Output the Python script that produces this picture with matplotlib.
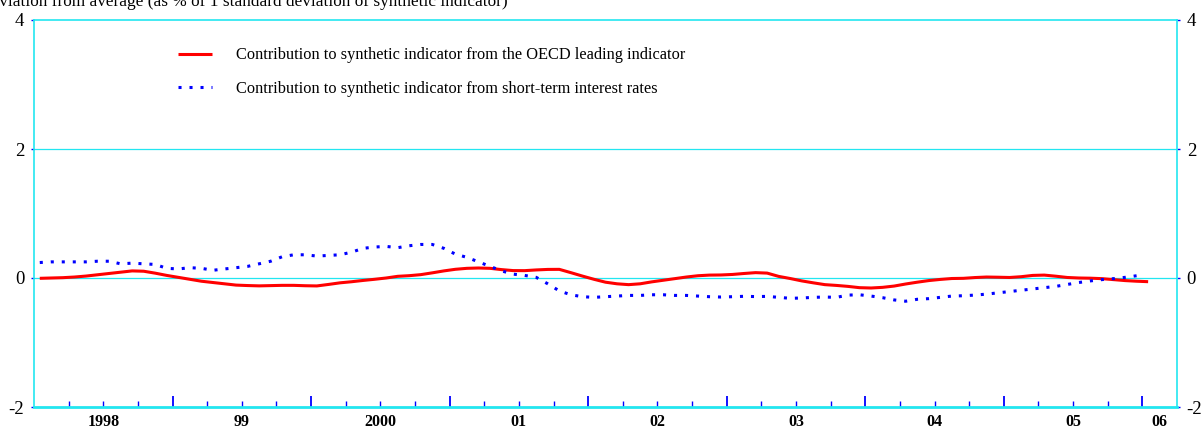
import numpy as np
import matplotlib
matplotlib.use("Agg")
import matplotlib.pyplot as plt
import matplotlib.transforms as mtransforms

plt.rcParams['font.family'] = ['Liberation Serif', 'DejaVu Serif']
plt.rcParams['axes.unicode_minus'] = False

# monthly observations, Jan 1998 onwards
oecd_leading = [
    -0.005, 0.0, 0.005, 0.015, 0.03, 0.05, 0.07, 0.09, 0.11, 0.105, 0.075, 0.04,
    0.01, -0.02, -0.05, -0.07, -0.09, -0.11, -0.117, -0.122, -0.118, -0.114, -0.114, -0.12,
    -0.123, -0.10, -0.075, -0.058, -0.038, -0.02, 0.0, 0.026, 0.036, 0.052, 0.08, 0.11,
    0.135, 0.15, 0.155, 0.15, 0.13, 0.115, 0.114, 0.125, 0.133, 0.134, 0.083, 0.03,
    -0.02, -0.065, -0.09, -0.103, -0.09, -0.06, -0.035, -0.01, 0.015, 0.035, 0.045, 0.047,
    0.055, 0.07, 0.083, 0.076, 0.025, -0.008, -0.045, -0.075, -0.103, -0.115, -0.13, -0.15,
    -0.155, -0.145, -0.125, -0.093, -0.065, -0.04, -0.022, -0.008, -0.005, 0.007, 0.015, 0.012,
    0.008, 0.02, 0.04, 0.045, 0.028, 0.008, 0.0, -0.003, -0.01, -0.025, -0.04, -0.05,
    -0.057,
]
short_rates = [
    0.24, 0.25, 0.25, 0.25, 0.25, 0.26, 0.26, 0.22, 0.23, 0.22, 0.21, 0.15,
    0.14, 0.16, 0.15, 0.12, 0.14, 0.16, 0.18, 0.22, 0.26, 0.33, 0.36, 0.36,
    0.34, 0.35, 0.36, 0.40, 0.46, 0.48, 0.49, 0.47, 0.50, 0.52, 0.52, 0.46,
    0.37, 0.32, 0.25, 0.18, 0.11, 0.06, 0.04, 0.01, -0.09, -0.20, -0.26, -0.29,
    -0.30, -0.29, -0.28, -0.27, -0.27, -0.26, -0.26, -0.27, -0.27, -0.28, -0.29, -0.295,
    -0.29, -0.284, -0.288, -0.285, -0.30, -0.315, -0.31, -0.30, -0.295, -0.30, -0.265, -0.26,
    -0.28, -0.305, -0.34, -0.36, -0.33, -0.32, -0.30, -0.28, -0.275, -0.265, -0.25, -0.23,
    -0.21, -0.19, -0.17, -0.15, -0.13, -0.10, -0.07, -0.045, -0.025, -0.01, 0.01, 0.035,
]
year_labels = ["1998", "99", "2000", "01", "02", "03", "04", "05", "06"]
y_ticks = [-2, 0, 2, 4]

label_red = "Contribution to synthetic indicator from the OECD leading indicator"
label_blue = "Contribution to synthetic indicator from short-term interest rates"
title = "Deviation from average (as % of 1 standard deviation of synthetic indicator)"

t_red = 1998 + (np.arange(len(oecd_leading)) + 0.5) / 12
t_blue = 1998 + (np.arange(len(short_rates)) + 0.5) / 12

W, H = 1203, 434
fig = plt.figure(figsize=(W / 100, H / 100), dpi=100)
ax = fig.add_axes([34 / W, 1 - 407 / H, (1177 - 34) / W, 387 / H])

cyan = "#22E6F0"
x0, x1 = 1998.0, 2006.25
ax.set_xlim(x0, x1)
ax.set_ylim(-2, 4)

for y in [0, 2]:
    ax.axhline(y, color=cyan, lw=0.9, zorder=1)

ax.plot(t_red, oecd_leading, color="#FF0000", lw=2.2, solid_capstyle="butt", zorder=3,
        label=label_red)
ax.plot(t_blue, short_rates, color="#0000FF", lw=2.2, linestyle=(0, (1.0, 2.6)),
        dash_capstyle="butt", zorder=3, label=label_blue)

for side in ["left", "right", "top"]:
    ax.spines[side].set_color(cyan)
    ax.spines[side].set_linewidth(1.2)
ax.spines["bottom"].set_color(cyan)
ax.spines["bottom"].set_linewidth(2.0)

# quarterly ticks along the bottom, taller ones at year boundaries
ax.set_xticks(np.arange(1999, 2007))
ax.set_xticks(np.arange(x0 + 0.25, x1, 0.25), minor=True)
ax.tick_params(axis="x", which="both", direction="in", colors="#0000FF", labelbottom=False)
ax.tick_params(axis="x", which="major", length=8, width=1.3)
ax.tick_params(axis="x", which="minor", length=4, width=1.0)

ax.set_yticks(y_ticks)
ax.tick_params(axis="y", which="both", direction="out", length=2, width=1.0,
               color="#0000FF", labelsize=13.5, left=True, right=True,
               labelleft=True, labelright=True, pad=5)

trans = mtransforms.blended_transform_factory(ax.transData, ax.transAxes)
for i, lab in enumerate(year_labels):
    start = 1998 + i
    end = min(start + 1, x1)
    ax.text((start + end) / 2, -0.04, lab, transform=trans, ha="center", va="center",
            fontsize=11.5, fontweight="bold")

fig.text(-21 / W, 1 - 6 / H, title, ha="left", va="baseline", fontsize=12.4)

ax.legend(loc="upper left", bbox_to_anchor=((178 - 34) / 1143, 0.929), frameon=False,
          fontsize=11.8, borderpad=0, borderaxespad=0,
          handlelength=2.07, handletextpad=1.46, labelspacing=1.05)

fig.savefig("out.png", dpi=100)
